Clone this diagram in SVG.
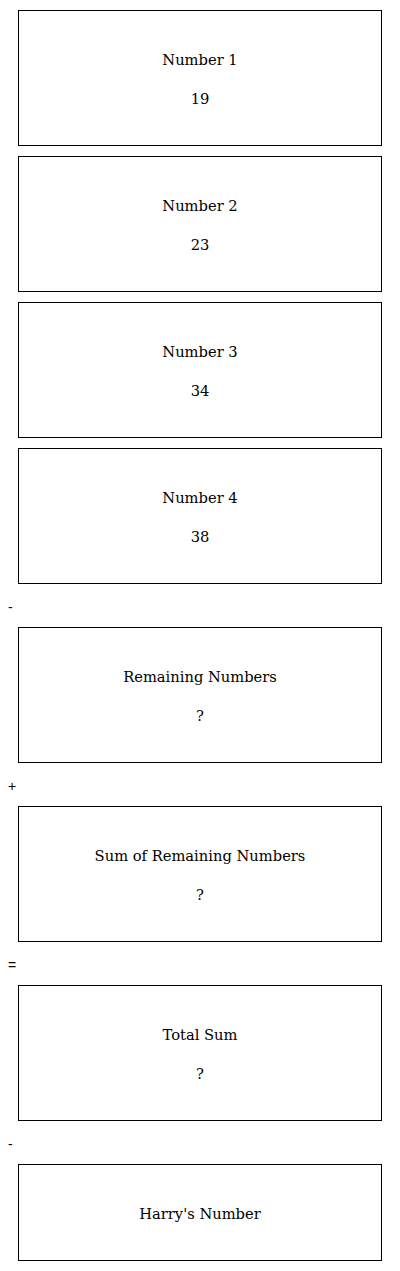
<svg xmlns="http://www.w3.org/2000/svg" width="400" height="1271" viewBox="0 0 400 1271">
<style>
.box{fill:#fff;stroke:#000;stroke-width:1}
.t{font-family:"DejaVu Serif","Liberation Serif",serif;font-size:14.7px;text-anchor:middle;fill:#000}
.op{font-family:"Liberation Sans",Arial,sans-serif;font-size:14px;fill:#000}
</style>
<rect width="400" height="1271" fill="#fff"/>
<g id="n1"><rect class="box" x="18.5" y="10.5" width="363" height="135"/><text class="t" x="200" y="65">Number 1</text><text class="t" x="200" y="104">19</text></g>
<g id="n2"><rect class="box" x="18.5" y="156.5" width="363" height="135"/><text class="t" x="200" y="211">Number 2</text><text class="t" x="200" y="250">23</text></g>
<g id="n3"><rect class="box" x="18.5" y="302.5" width="363" height="135"/><text class="t" x="200" y="357">Number 3</text><text class="t" x="200" y="396">34</text></g>
<g id="n4"><rect class="box" x="18.5" y="448.5" width="363" height="135"/><text class="t" x="200" y="503">Number 4</text><text class="t" x="200" y="542">38</text></g>
<g id="ops">
<text class="op" x="8" y="612">-</text>
<text class="op" x="8" y="791">+</text>
<text class="op" x="8" y="970">=</text>
<text class="op" x="8" y="1149">-</text>
</g>
<g id="n5"><rect class="box" x="18.5" y="627.5" width="363" height="135"/><text class="t" x="200" y="682">Remaining Numbers</text><text class="t" x="200" y="721">?</text></g>
<g id="n6"><rect class="box" x="18.5" y="806.5" width="363" height="135"/><text class="t" x="200" y="861">Sum of Remaining Numbers</text><text class="t" x="200" y="900">?</text></g>
<g id="n7"><rect class="box" x="18.5" y="985.5" width="363" height="135"/><text class="t" x="200" y="1040">Total Sum</text><text class="t" x="200" y="1079">?</text></g>
<g id="n8"><rect class="box" x="18.5" y="1164.5" width="363" height="96"/><text class="t" x="200" y="1219">Harry's Number</text></g>
</svg>
